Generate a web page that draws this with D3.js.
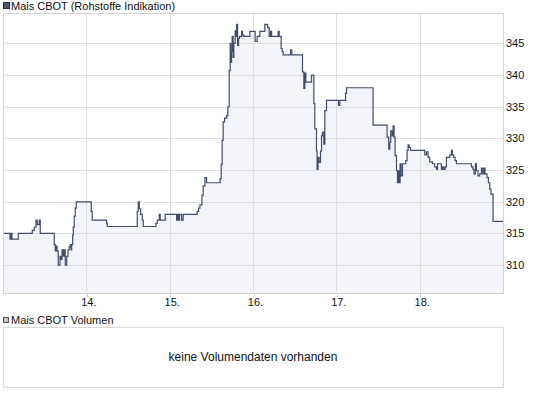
<!DOCTYPE html>
<html>
<head>
<meta charset="utf-8">
<script src="https://cdn.jsdelivr.net/npm/d3@7"></script>
<style>
	body { margin: 0; background: #ffffff; }
	text { font-family: "Liberation Sans", Arial, sans-serif; fill: #111111; }
	.grid line { stroke: #dedede; stroke-width: 1; shape-rendering: crispEdges; }
	.axis .domain { display: none; }
	.axis text { font-size: 11px; }
	.axis line { stroke: #cfcfcf; shape-rendering: crispEdges; }
</style>
</head>
<body>
<div id="chart"></div>
<script>

// Price ticks (day of month, intraday as decimals)
var days = [
	13.000, 13.084, 13.096, 13.108, 13.183, 13.351, 13.375, 13.396, 13.411, 13.435,
	13.447, 13.615, 13.627, 13.636, 13.648, 13.663, 13.684, 13.696, 13.708, 13.723,
	13.735, 13.747, 13.764, 13.780, 13.795, 13.807, 13.816, 13.824, 13.836, 13.843,
	13.855, 13.867, 13.879, 14.059, 14.071, 14.244, 14.251, 14.611, 14.623, 14.635,
	14.651, 14.671, 14.683, 14.835, 14.851, 14.875, 14.887, 14.947, 15.083, 15.095,
	15.107, 15.119, 15.143, 15.162, 15.330, 15.347, 15.363, 15.387, 15.402, 15.423,
	15.443, 15.606, 15.618, 15.630, 15.642, 15.659, 15.683, 15.698, 15.714, 15.726,
	15.734, 15.743, 15.750, 15.762, 15.770, 15.786, 15.794, 15.803, 15.815, 15.827,
	15.839, 15.863, 15.875, 15.890, 15.962, 16.026, 16.050, 16.082, 16.142, 16.175,
	16.194, 16.211, 16.223, 16.302, 16.314, 16.338, 16.350, 16.362, 16.450, 16.466,
	16.594, 16.610, 16.622, 16.634, 16.702, 16.730, 16.742, 16.762, 16.769, 16.781,
	16.793, 16.810, 16.822, 16.834, 16.850, 16.862, 16.882, 17.026, 17.042, 17.110,
	17.122, 17.441, 17.609, 17.629, 17.641, 17.653, 17.669, 17.681, 17.693, 17.705,
	17.722, 17.734, 17.741, 17.753, 17.765, 17.777, 17.794, 17.833, 17.849, 17.861,
	17.873, 17.890, 18.061, 18.082, 18.101, 18.121, 18.154, 18.181, 18.202, 18.214,
	18.261, 18.273, 18.289, 18.305, 18.321, 18.361, 18.381, 18.393, 18.409, 18.425,
	18.441, 18.621, 18.640, 18.652, 18.669, 18.681, 18.700, 18.721, 18.741, 18.757,
	18.772, 18.784, 18.808, 18.825, 18.841, 18.856, 18.880, 19.000
];

var prices = [
	315, 314.1, 315, 314.1, 315, 315.5, 316, 317.1, 316.4, 317.1,
	315, 313.25, 312.25, 313, 312.25, 310, 311.4, 310.9, 312.4, 311.4,
	312.4, 310, 311.4, 312.4, 312.9, 313.25, 312.4, 313.25, 314.75, 316,
	317.75, 319, 320, 318.5, 317.1, 316.6, 316.1, 318.5, 320, 318.9,
	318, 317.1, 316.1, 316.6, 317.1, 318, 317.1, 318, 317.1, 318,
	317.1, 318, 317.1, 318, 318.5, 319, 319.5, 321, 322.5, 323.8,
	323, 323.6, 325.9, 329.7, 332.6, 333.2, 333.6, 335, 340.7, 345,
	342, 343.7, 346.1, 342.8, 345, 347, 346.1, 348, 344.7, 345.8,
	346.1, 346.9, 346.3, 346.1, 346.9, 345.3, 346.1, 346.9, 348, 347.5,
	346.1, 346.9, 346.1, 346.9, 346.1, 344.2, 343.7, 343.2, 344, 343.2,
	340.5, 337.9, 340.3, 338.9, 340, 335.5, 331.5, 328, 325.1, 327,
	326.2, 328, 330.4, 331, 329.1, 334.4, 336, 335.2, 336, 337.1,
	338, 332.1, 330.2, 328.3, 329.4, 331.2, 330.4, 332, 330.2, 327.3,
	324.9, 323, 324.9, 323, 326, 324.1, 326, 326.5, 328.1, 329,
	328.6, 328.1, 327.4, 327.9, 327, 326.3, 326, 325.5, 325.1, 326,
	325.1, 325.5, 325.1, 325.5, 327, 327.4, 328.1, 327.4, 327, 326.5,
	326, 325.5, 325.1, 324.4, 326, 324.9, 324.1, 324.4, 325.3, 324.4,
	325.3, 324.4, 323.8, 323, 322, 321.2, 316.9, 316.9
];

var priceTicks = [310, 315, 320, 325, 330, 335, 340, 345];
var dayTicks = [14, 15, 16, 17, 18];

var titleText = "Mais CBOT (Rohstoffe Indikation)";
var volumeTitle = "Mais CBOT Volumen";
var volumeEmpty = "keine Volumendaten vorhanden";

// Sizes
var width = 545,
	height = 395;

var plot = { left: 3, right: 503, top: 13, bottom: 293 };
var volume = { top: 327, bottom: 387 };

var svg = d3.select("#chart").append("svg")
	.attr("width", width)
	.attr("height", height);

// Scales
var xScale = d3.scaleLinear()
	.domain([13, 19])
	.range([plot.left, plot.right]);

var yScale = d3.scaleLinear()
	.domain([305.6, 349.8])
	.range([plot.bottom, plot.top]);

var data = days.map(function(d, i) { return { day: d, price: prices[i] }; });

// Area and line (step after each tick)
var area = d3.area()
	.curve(d3.curveStepAfter)
	.x(function(d) { return xScale(d.day); })
	.y0(plot.bottom)
	.y1(function(d) { return yScale(d.price); });

var line = d3.line()
	.curve(d3.curveStepAfter)
	.x(function(d) { return xScale(d.day); })
	.y(function(d) { return yScale(d.price); });

svg.append("path")
	.datum(data)
	.attr("d", area)
	.style("fill", "#f3f4fa");

// Grid lines
var grid = svg.append("g").attr("class", "grid");

grid.selectAll(".h")
	.data(priceTicks)
	.enter().append("line")
	.attr("x1", plot.left)
	.attr("x2", plot.right)
	.attr("y1", function(d) { return Math.round(yScale(d)) + 0.5; })
	.attr("y2", function(d) { return Math.round(yScale(d)) + 0.5; });

grid.selectAll(".v")
	.data(dayTicks)
	.enter().append("line")
	.attr("y1", plot.top)
	.attr("y2", plot.bottom)
	.attr("x1", function(d) { return Math.round(xScale(d)) + 0.5; })
	.attr("x2", function(d) { return Math.round(xScale(d)) + 0.5; });

svg.append("path")
	.datum(data)
	.attr("d", line)
	.style("fill", "none")
	.style("stroke", "#414c6b")
	.style("stroke-width", 1.2);

// Plot frame
svg.append("rect")
	.attr("x", plot.left + 0.5)
	.attr("y", plot.top + 0.5)
	.attr("width", plot.right - plot.left)
	.attr("height", plot.bottom - plot.top)
	.style("fill", "none")
	.style("stroke", "#d4d4d4")
	.style("shape-rendering", "crispEdges");

// Axes
var yAxis = d3.axisRight(yScale)
	.tickValues(priceTicks)
	.tickSize(0)
	.tickPadding(3);

svg.append("g")
	.attr("class", "axis y")
	.attr("transform", "translate(" + plot.right + ",0)")
	.call(yAxis);

var xAxis = d3.axisBottom(xScale)
	.tickValues(dayTicks)
	.tickSize(3)
	.tickPadding(2)
	.tickFormat(function(d) { return d + "."; });

var xAxisGroup = svg.append("g")
	.attr("class", "axis x")
	.attr("transform", "translate(0.5," + (plot.bottom + 0.5) + ")")
	.call(xAxis);

// Labels sit a little right of their grid line
xAxisGroup.selectAll("text").attr("dx", 1.5);

// Legend of the price chart
svg.append("rect")
	.attr("x", 3.5)
	.attr("y", 2.5)
	.attr("width", 6)
	.attr("height", 6)
	.style("fill", "#4b5572")
	.style("stroke", "#2c3242");

svg.append("text")
	.attr("x", 11)
	.attr("y", 9.5)
	.style("font-size", "11px")
	.text(titleText);

// Volume panel
svg.append("rect")
	.attr("x", 3.5)
	.attr("y", 317.5)
	.attr("width", 5)
	.attr("height", 5)
	.style("fill", "#c4c4c4")
	.style("stroke", "#555555");

svg.append("text")
	.attr("x", 11)
	.attr("y", 324)
	.style("font-size", "11px")
	.text(volumeTitle);

svg.append("rect")
	.attr("x", plot.left + 0.5)
	.attr("y", volume.top + 0.5)
	.attr("width", plot.right - plot.left)
	.attr("height", volume.bottom - volume.top)
	.style("fill", "#ffffff")
	.style("stroke", "#d9d9d9")
	.style("shape-rendering", "crispEdges");

svg.append("text")
	.attr("x", (plot.left + plot.right) / 2)
	.attr("y", (volume.top + volume.bottom) / 2 + 4)
	.style("font-size", "12px")
	.style("text-anchor", "middle")
	.text(volumeEmpty);

</script>
</body>
</html>
